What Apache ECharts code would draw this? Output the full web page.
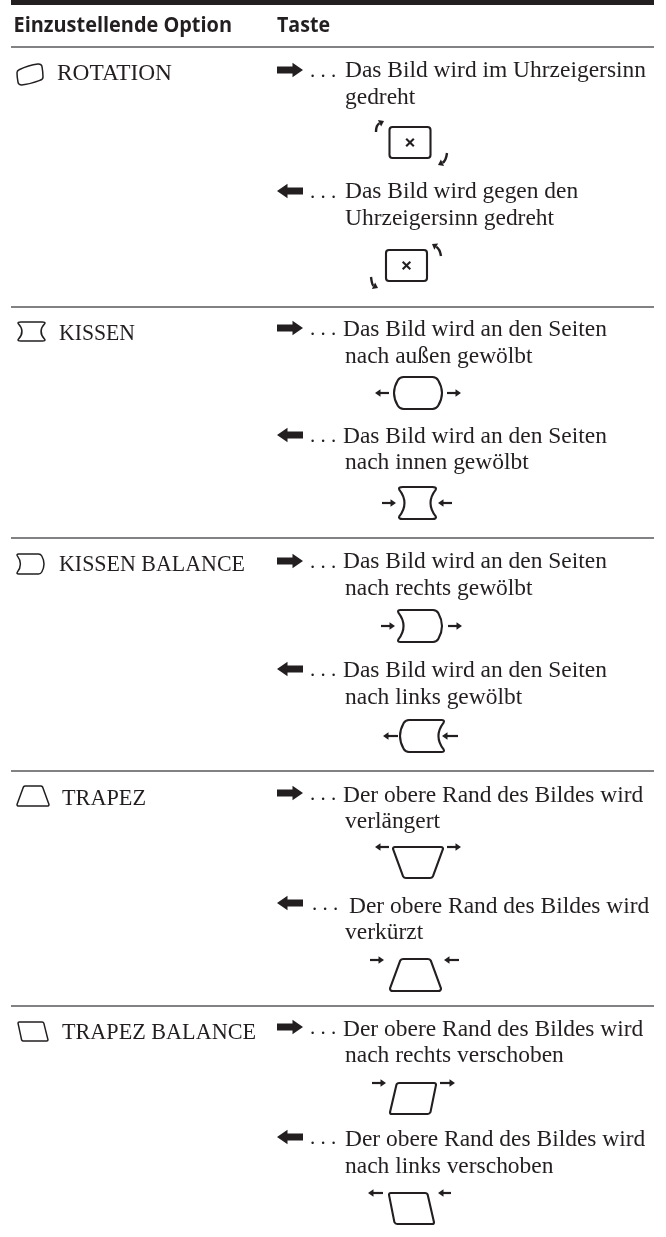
<!DOCTYPE html>
<html>
<head>
<meta charset="utf-8">
<style>html,body{margin:0;background:#fff}#main{width:666px;height:1237px}</style>
<script src="https://cdn.jsdelivr.net/npm/echarts@6/dist/echarts.min.js"></script>
</head>
<body>
<div id="main"></div>
<script>
// table contents
var headers = ['Einzustellende Option', 'Taste'];
var optionNames = ['ROTATION', 'KISSEN', 'KISSEN BALANCE', 'TRAPEZ', 'TRAPEZ BALANCE'];
var keyTexts = [
	'Das Bild wird im Uhrzeigersinn', 'gedreht',
	'Das Bild wird gegen den', 'Uhrzeigersinn gedreht',
	'Das Bild wird an den Seiten', 'nach außen gewölbt',
	'Das Bild wird an den Seiten', 'nach innen gewölbt',
	'Das Bild wird an den Seiten', 'nach rechts gewölbt',
	'Das Bild wird an den Seiten', 'nach links gewölbt',
	'Der obere Rand des Bildes wird', 'verlängert',
	'Der obere Rand des Bildes wird', 'verkürzt',
	'Der obere Rand des Bildes wird', 'nach rechts verschoben',
	'Der obere Rand des Bildes wird', 'nach links verschoben'
];
var dots = '. . .';

// layout, in page pixels
var ruleYs = [47, 307, 538, 771, 1006];
var headerPos = [[13.5, 31.5, 218.5], [277, 31.5, 53]];
var optionPos = [[57, 80, 115], [59, 340, 76], [59, 571, 186], [62, 805, 84], [62, 1039, 194]];
var keyPos = [
	[345, 77], [345, 104], [345, 198], [345, 225],
	[343, 336], [345, 363], [343, 443], [345, 469],
	[343, 568], [345, 595], [343, 677], [345, 704],
	[343, 802], [345, 828], [349, 913], [345, 939],
	[343, 1036], [345, 1062], [345, 1146], [345, 1173]
];
var bigArrows = [
	[70, 1], [191, -1], [328, 1], [435, -1], [561, 1],
	[669, -1], [793, 1], [903, -1], [1027, 1], [1137, -1]
];
var smallArrows = [
	[375, 389, 393, -1], [447, 461, 393, 1], [382, 396, 503, 1], [438, 452, 503, -1],
	[381, 395, 626, 1], [448, 462, 626, 1], [383, 398, 736, -1], [442, 458, 736, -1],
	[375, 389, 847, -1], [447, 461, 847, 1], [370, 384, 960, 1], [444, 459, 960, -1],
	[372, 386, 1083, 1], [440, 455, 1083, 1], [368, 383, 1193, -1], [438, 451, 1193, -1]
];
// tail x, tail y, control x, control y, tip x, tip y
var turnArrows = [
	[376, 132, 376, 125, 384, 121], [447, 153, 446, 161, 438, 165],
	[441, 256, 440, 249, 432, 244], [371, 277, 372, 285, 378, 288]
];
var keyBoxes = [[389.5, 127, 41, 31], [386, 250, 41, 31]];

// outlines in a 0..100 box
var PINCH = 'M12 0L88 0Q100 0 97 8Q70 50 97 92Q100 100 88 100L12 100Q0 100 3 92Q30 50 3 8Q0 0 12 0Z';
var BULGE = 'M20 0L80 0Q88 0 92 10Q100 30 100 50Q100 70 92 90Q88 100 80 100L20 100Q12 100 8 90Q0 70 0 50Q0 30 8 10Q12 0 20 0Z';
var RIGHT = 'M8 0L80 0Q88 0 92 10Q100 30 100 50Q100 70 92 90Q88 100 80 100L8 100Q0 100 3 92Q26 50 3 8Q0 0 8 0Z';
var LEFT = 'M20 0L92 0Q100 0 97 8Q74 50 97 92Q100 100 92 100L20 100Q12 100 8 90Q0 70 0 50Q0 30 8 10Q12 0 20 0Z';
var TILT = 'M8 28Q45 6 80 1Q94 0 96 12Q100 40 100 62Q100 74 88 78Q50 96 18 100Q6 100 4 88Q0 62 0 42Q0 32 8 28Z';
var TRAP_IN = 'M26 0L74 0Q78 0 80 5L100 92Q100 100 94 100L6 100Q0 100 0 92L20 5Q22 0 26 0Z';
var TRAP_OUT = 'M4 0L96 0Q100 0 100 6L80 94Q78 100 74 100L26 100Q22 100 20 94L0 6Q0 0 4 0Z';
var PARA_R = 'M20 0L96 0Q100 0 100 6L88 94Q86 100 82 100L4 100Q0 100 0 94L14 6Q15 0 20 0Z';
var PARA_L = 'M4 0L80 0Q85 0 86 6L100 94Q100 100 96 100L18 100Q14 100 12 94L0 6Q0 0 4 0Z';
var icons = [
	[TILT, 17, 64, 26, 21, 1.5], [PINCH, 18, 322, 27, 19, 1.5], [RIGHT, 17, 554, 27, 20, 1.5],
	[TRAP_IN, 17, 786, 32, 20, 1.5], [PARA_L, 18, 1022, 30, 19, 1.5],
	[BULGE, 394, 377, 48, 32, 2.1], [PINCH, 399, 487, 37, 32, 2.1],
	[RIGHT, 398, 610, 44, 32, 2.1], [LEFT, 400, 720, 44, 32, 2.1],
	[TRAP_OUT, 393, 847, 50, 31, 2.1], [TRAP_IN, 390, 959, 51, 32, 2.1],
	[PARA_R, 390, 1083, 46, 31, 2.1], [PARA_L, 389, 1193, 45, 31, 2.1]
];

var INK = '#231f20';
var RULE = '#58595b';
var SERIF = '"Liberation Serif", serif';
var SANS = '"Open Sans", sans-serif';
var TEXT_SIZE = 22.5;

var ctx = document.createElement('canvas').getContext('2d');
function measure(str, font) {
	ctx.font = font;
	return ctx.measureText(str).width;
}
var keyScale = 301 / measure(keyTexts[0], TEXT_SIZE + 'px ' + SERIF);

// every mark is one data item, anchored on the hidden pixel axes
var marks = [];
marks.push({ kind: 'bar', x: 11, y: 0, w: 643, h: 5 });
ruleYs.forEach(function (y) { marks.push({ kind: 'rule', x: 11, y: y, x2: 654 }); });
headers.forEach(function (t, i) {
	var font = 'bold 22px ' + SANS;
	marks.push({ kind: 'text', x: headerPos[i][0], y: headerPos[i][1], text: t, size: 22, weight: 'bold', family: SANS, sx: headerPos[i][2] / measure(t, font) });
});
optionNames.forEach(function (t, i) {
	marks.push({ kind: 'text', x: optionPos[i][0], y: optionPos[i][1], text: t, size: TEXT_SIZE, weight: 'normal', family: SERIF, sx: optionPos[i][2] / measure(t, TEXT_SIZE + 'px ' + SERIF) });
});
keyTexts.forEach(function (t, i) {
	marks.push({ kind: 'text', x: keyPos[i][0], y: keyPos[i][1], text: t, size: TEXT_SIZE, weight: 'normal', family: SERIF, sx: keyScale });
});
bigArrows.forEach(function (a, i) {
	marks.push({ kind: 'big', x: 277, y: a[0], dir: a[1] });
	marks.push({ kind: 'text', x: i === 7 ? 312 : 310, y: a[0] + 7, text: dots, size: 21, weight: 'normal', family: SERIF, sx: 1 });
});
smallArrows.forEach(function (a) { marks.push({ kind: 'small', x: a[0], y: a[2], x2: a[1], dir: a[3] }); });
turnArrows.forEach(function (a) { marks.push({ kind: 'turn', x: a[0], y: a[1], p: a }); });
keyBoxes.forEach(function (b) { marks.push({ kind: 'key', x: b[0], y: b[1], w: b[2], h: b[3] }); });
icons.forEach(function (c) { marks.push({ kind: 'icon', x: c[1], y: c[2], path: c[0], w: c[3], h: c[4], lw: c[5] }); });

function renderMark(params, api) {
	var m = marks[params.dataIndex];
	var p = api.coord([m.x, m.y]);
	var ink = { fill: INK };
	var line = { fill: 'none', stroke: INK, lineWidth: 2.1, lineJoin: 'round' };
	if (m.kind === 'bar') {
		return { type: 'rect', shape: { x: p[0], y: p[1], width: m.w, height: m.h }, style: ink };
	}
	if (m.kind === 'rule') {
		return { type: 'line', shape: { x1: p[0], y1: p[1], x2: api.coord([m.x2, m.y])[0], y2: p[1] }, style: { stroke: RULE, lineWidth: 1.6 } };
	}
	if (m.kind === 'text') {
		return {
			type: 'text', x: p[0], y: p[1], scaleX: m.sx,
			style: { text: m.text, x: 0, y: -m.size * 0.27, fill: INK, fontSize: m.size, fontWeight: m.weight, fontFamily: m.family, verticalAlign: 'middle', textAlign: 'left' }
		};
	}
	if (m.kind === 'big') {
		var d = 'M0 -3.6L15.5 -3.6L15.5 -7.2L26 0L15.5 7.2L15.5 3.6L0 3.6Z';
		return {
			type: 'path', x: p[0] + (m.dir > 0 ? 0 : 26), y: p[1], scaleX: m.dir,
			shape: { pathData: d, x: 0, y: -7.2, width: 26, height: 14.4, layout: 'cover' }, style: ink
		};
	}
	if (m.kind === 'small') {
		var x2 = api.coord([m.x2, m.y])[0];
		var tip = m.dir > 0 ? x2 : p[0];
		var tail = m.dir > 0 ? p[0] : x2;
		return {
			type: 'group', children: [
				{ type: 'line', shape: { x1: tail, y1: p[1], x2: tip - m.dir * 3, y2: p[1] }, style: { stroke: INK, lineWidth: 2.2 } },
				{ type: 'polygon', shape: { points: [[tip, p[1]], [tip - m.dir * 5.5, p[1] - 3.8], [tip - m.dir * 5.5, p[1] + 3.8]] }, style: ink }
			]
		};
	}
	if (m.kind === 'turn') {
		var c = api.coord([m.p[2], m.p[3]]);
		var t = api.coord([m.p[4], m.p[5]]);
		var a = Math.atan2(t[1] - c[1], t[0] - c[0]);
		var bx = t[0] - Math.cos(a) * 5, by = t[1] - Math.sin(a) * 5;
		var nx = -Math.sin(a) * 3.6, ny = Math.cos(a) * 3.6;
		return {
			type: 'group', children: [
				{ type: 'bezierCurve', shape: { x1: p[0], y1: p[1], x2: bx, y2: by, cpx1: c[0], cpy1: c[1] }, style: { fill: 'none', stroke: INK, lineWidth: 2.4 } },
				{ type: 'polygon', shape: { points: [t, [bx + nx, by + ny], [bx - nx, by - ny]] }, style: ink }
			]
		};
	}
	if (m.kind === 'key') {
		var cx = p[0] + m.w / 2, cy = p[1] + m.h / 2, s = 3.8;
		var cross = { stroke: INK, lineWidth: 2.1 };
		return {
			type: 'group', children: [
				{ type: 'rect', shape: { x: p[0], y: p[1], width: m.w, height: m.h, r: 3 }, style: line },
				{ type: 'line', shape: { x1: cx - s, y1: cy - s, x2: cx + s, y2: cy + s }, style: cross },
				{ type: 'line', shape: { x1: cx - s, y1: cy + s, x2: cx + s, y2: cy - s }, style: cross }
			]
		};
	}
	return {
		type: 'path',
		shape: { pathData: m.path, x: p[0], y: p[1], width: m.w, height: m.h, layout: 'cover' },
		style: { fill: 'none', stroke: INK, lineWidth: m.lw, lineJoin: 'round' }
	};
}

var myChart = echarts.init(document.getElementById('main'));
myChart.setOption({
	backgroundColor: '#fff',
	animation: false,
	grid: { left: 0, right: 0, top: 0, bottom: 0 },
	xAxis: { type: 'value', min: 0, max: 666, show: false },
	yAxis: { type: 'value', min: 0, max: 1237, inverse: true, show: false },
	series: [{
		type: 'custom',
		coordinateSystem: 'cartesian2d',
		clip: false,
		silent: true,
		renderItem: renderMark,
		data: marks.map(function (m) { return [m.x, m.y]; })
	}]
});
</script>
</body>
</html>
